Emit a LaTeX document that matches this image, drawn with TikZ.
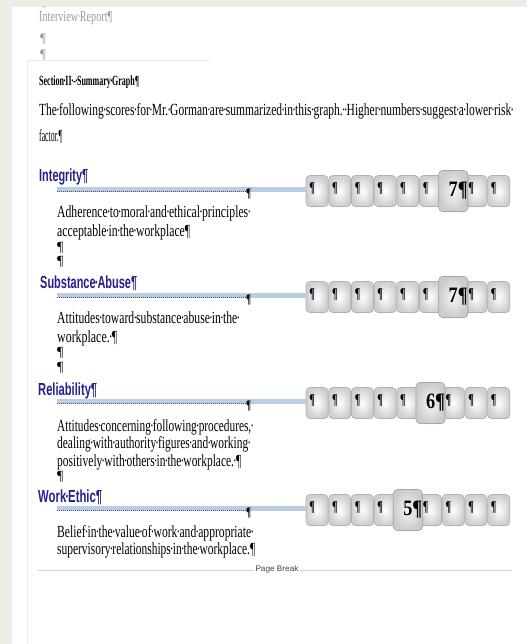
\documentclass[tikz,border=0pt]{standalone}
\usepackage{fontspec}
\setmainfont{Liberation Serif}
\newfontfamily\hfont{Liberation Sans}
\usepackage{graphicx}
\usetikzlibrary{shadows}
\definecolor{beige}{HTML}{EDEDE5}
\definecolor{navyh}{RGB}{40,32,140}
\definecolor{barblue}{HTML}{B9CDE5}
\definecolor{frameblue}{HTML}{E2EDF7}
\definecolor{hdrgray}{HTML}{9A9A9A}
\newcommand\fw[2]{\resizebox{#1pt}{\height}{#2}}
\newcommand\dt{\makebox[0.17em]{·}}
\begin{document}
\begin{tikzpicture}[x=1pt,y=-1pt,
  txt/.style={anchor=west,inner sep=0pt,font=\fontsize{17}{17}\selectfont},
  graytxt/.style={txt,text=hdrgray,font=\fontsize{15}{15}\selectfont},
  boldtxt/.style={txt,font=\fontsize{14}{14}\selectfont\bfseries},
  head/.style={anchor=west,inner sep=0pt,text=navyh,font=\fontsize{17.5}{17.5}\selectfont\hfont\bfseries},
  pil/.style={anchor=west,inner sep=0pt,font=\fontsize{14}{14}\selectfont},
  cell/.style={rounded corners=4pt,draw=gray!60,line width=0.7pt,inner color=white,outer color=gray!38,
     minimum width=22pt,minimum height=31pt,inner sep=0pt,
     drop shadow={shadow xshift=0.7pt,shadow yshift=-0.7pt,opacity=0.25}},
  hcell/.style={cell,minimum width=29pt,minimum height=41pt,inner color=gray!8,outer color=gray!40,draw=gray!70},
  cellpil/.style={anchor=west,inner sep=0pt,font=\fontsize{15}{15}\selectfont\bfseries},
  hval/.style={inner sep=0pt,font=\fontsize{22}{22}\selectfont\bfseries},
  bar/.style={barblue,line width=5.5pt},
  dots/.style={gray!70!black,line width=0.6pt,dash pattern=on 1.1pt off 0.9pt},
  frame/.style={frameblue,line width=1pt}
]
\useasboundingbox (0,0) rectangle (527,644);
\fill[beige] (0,0) rectangle (527,644);
\fill[white] (12,7) rectangle (527,644);

% faint frame
\coordinate (f1) at (27,644);
\coordinate (f2) at (27,61);
\coordinate (f3) at (210,61);
\draw[frame] (f1) -- (f2) -- (f3);

\begin{scope}
\clip (12,7) rectangle (527,644);
\node[graytxt,font=\fontsize{13}{13}\selectfont] (ptop) at (40,3) {¶};
\end{scope}
\node[graytxt] (hdr) at (39,18) {\fw{73}{Interview\dt Report¶}};
\node[graytxt,font=\fontsize{13}{13}\selectfont] (pg1) at (40,39) {¶};
\node[graytxt,font=\fontsize{13}{13}\selectfont] (pg2) at (40,55) {¶};

\node[boldtxt] (sec) at (39,82) {\fw{100}{Section\dt II\dt -\dt Summary\dt Graph¶}};
\node[txt] (par1) at (39,111) {\fw{474}{The\dt following\dt scores\dt for\dt Mr.\dt Gorman\dt are\dt summarized\dt in\dt this\dt graph.\dt\dt Higher\dt numbers\dt suggest\dt a\dt lower\dt risk\dt}};
\node[txt] (par2) at (39,137) {\fw{23}{factor.¶}};

% headings
\node[head] (h1) at (39,177) {\fw{49}{Integrity¶}};
\node[head] (h2) at (40,283) {\fw{97}{Substance\dt Abuse¶}};
\node[head] (h3) at (38,391) {\fw{59}{Reliability¶}};
\node[head] (h4) at (38,497) {\fw{64}{Work\dt Ethic¶}};

% descriptions
\node[txt] (d1a) at (57,213) {\fw{193}{Adherence\dt to\dt moral\dt and\dt ethical\dt principles\dt}};
\node[txt] (d1b) at (57,232) {\fw{133}{acceptable\dt in\dt the\dt workplace¶}};
\node[pil] (e1a) at (57,248) {¶};
\node[pil] (e1b) at (57,262) {¶};

\node[txt] (d2a) at (57,318) {\fw{182}{Attitudes\dt toward\dt substance\dt abuse\dt in\dt the\dt}};
\node[txt] (d2b) at (57,338) {\fw{60}{workplace.\dt ¶}};
\node[pil] (e2a) at (57,353) {¶};
\node[pil] (e2b) at (57,368) {¶};

\node[txt] (d3a) at (57,427) {\fw{196}{Attitudes\dt concerning\dt following\dt procedures,\dt}};
\node[txt] (d3b) at (57,444) {\fw{193}{dealing\dt with\dt authority\dt figures\dt and\dt working\dt}};
\node[txt] (d3c) at (57,462) {\fw{184}{positively\dt with\dt others\dt in\dt the\dt workplace.\dt ¶}};
\node[pil] (e3a) at (57,477) {¶};

\node[txt] (d4a) at (57,533) {\fw{196}{Belief\dt in\dt the\dt value\dt of\dt work\dt and\dt appropriate\dt}};
\node[txt] (d4b) at (57,550) {\fw{198}{supervisory\dt relationships\dt in\dt the\dt workplace.¶}};

% score rows
\foreach \r/\y/\h/\v in {1/191/7/7, 2/297/7/7, 3/403/6/6, 4/510/5/5} {
  \foreach \i in {1,...,9} {
    \node[cell] (b\r-\i) at ({317+(\i-1)*22.7},\y) {};
    \node[cellpil] (p\r-\i) at ([xshift=3.5pt,yshift=2pt]b\r-\i.west) {\fw{5.5}{¶}};
  }
  \coordinate (bs\r) at (57,\y-1.5);
  \draw[bar] (bs\r) -- (bs\r -| b\r-1.west);
  \coordinate (ds\r) at (57,\y+0.6);
  \node[pil,font=\fontsize{13}{13}\selectfont\bfseries] (q\r) at (246,\y+3) {\fw{5}{¶}};
  \draw[dots] (ds\r) -- (ds\r -| q\r.west);
  \node[hcell] (hc\r) at (b\r-\h) {};
  \node[hval] (v\r) at ([xshift=5pt,yshift=0pt]hc\r.center) {\fw{19}{\v¶}};
}

% page break
\node[inner sep=1pt,fill=white,text=black!75,font=\fontsize{8}{8}\selectfont\hfont] (pb) at (277,569) {\fw{43}{Page Break}};
\coordinate (pbl) at (38,570);
\coordinate (pbr) at (512,570);
\draw[gray!35,line width=0.8pt] (pbl) -- (pbl -| pb.west);
\draw[gray!35,line width=0.8pt] (pbr -| pb.east) -- (pbr);
\end{tikzpicture}
\end{document}
